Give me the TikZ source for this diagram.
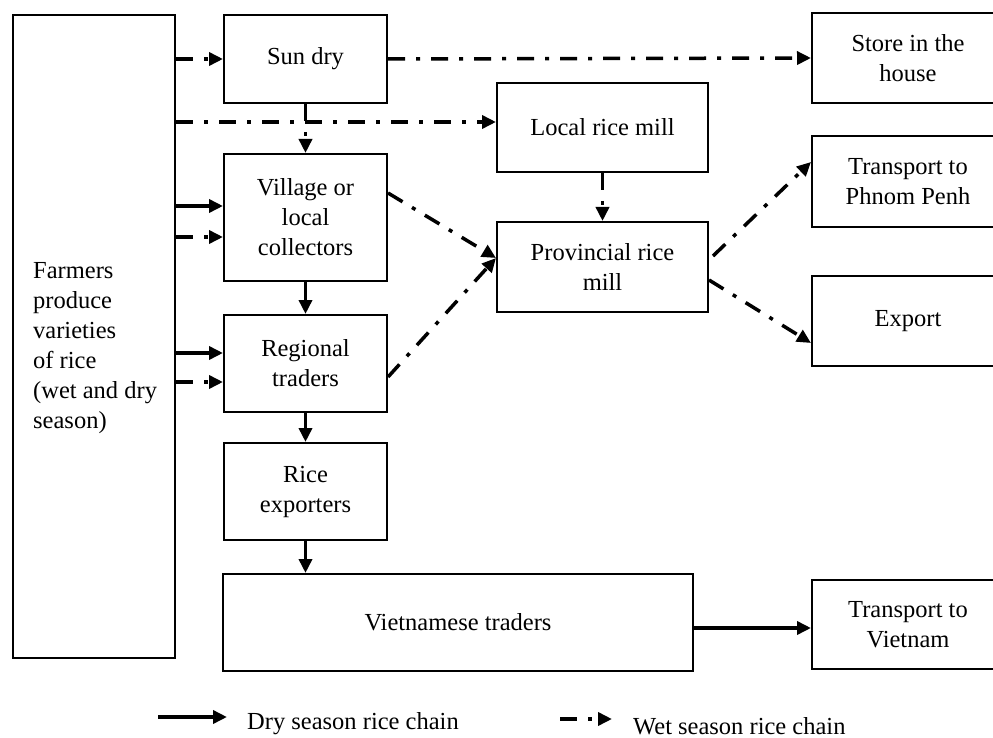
\documentclass[tikz,border=0pt]{standalone}
\usepackage{fontspec}
\setmainfont{Liberation Serif}
\usetikzlibrary{arrows.meta}
\tikzset{
  box/.style={draw,line width=2pt,align=center,inner sep=0pt,minimum width=163pt},
  dryarrow/.style={line width=3.5pt,-{Triangle[length=14pt,width=13pt]}},
  wetarrow/.style={line width=3.5pt,dash pattern=on 17pt off 11pt on 4pt off 11pt,-{Triangle[length=14pt,width=13pt]}},
}
\begin{document}
\begin{tikzpicture}[x=1pt,y=-1pt,font=\fontsize{24.5}{30}\selectfont]
\useasboundingbox (0,0) rectangle (993,738);
% farmers column
\node[box,minimum width=162pt,minimum height=643pt] (farmers) at (94,336.5) {};
\node[align=left,anchor=west,inner sep=0pt] (farmerstxt) at (33,348) {Farmers\\produce\\varieties\\of rice\\(wet and dry\\season)};
% middle chain
\node[box,minimum height=88pt] (sundry) at (305.5,59) {Sun dry};
\node[box,minimum height=127pt] (village) at (305.5,217.5) {Village or\\local\\collectors};
\node[box,minimum height=97pt] (regional) at (305.5,363.5) {Regional\\traders};
\node[box,minimum height=97pt] (exporters) at (305.5,491.5) {Rice\\exporters};
\node[box,minimum width=470pt,minimum height=97pt] (vietnamese) at (458,622.5) {Vietnamese traders};
\node[box,minimum width=211pt,minimum height=89pt] (localmill) at (602.5,127.5) {Local rice mill};
\node[box,minimum width=211pt,minimum height=90pt] (provmill) at (602.5,267) {Provincial rice\\mill};
% right column
\node[box,minimum width=192pt,minimum height=90pt] (store) at (908,58) {Store in the\\house};
\node[box,minimum width=192pt,minimum height=91pt] (phnompenh) at (908,181.5) {Transport to\\Phnom Penh};
\node[box,minimum width=192pt,minimum height=90pt] (export) at (908,321) {Export};
\node[box,minimum width=192pt,minimum height=89pt] (vietnam) at (908,624.5) {Transport to\\Vietnam};
% entry points
\coordinate (lm-in) at ([yshift=5.5pt]localmill.west);
\coordinate (v-dry) at ([yshift=11.5pt]village.west);
\coordinate (v-wet) at ([yshift=-19.5pt]village.west);
\coordinate (r-dry) at ([yshift=10.5pt]regional.west);
\coordinate (r-wet) at ([yshift=-18.5pt]regional.west);
\coordinate (pm-in) at ([yshift=9pt]provmill.west);
\coordinate (vt-out) at ([yshift=-5.5pt]vietnamese.east);
% connectors
\draw[wetarrow] (sundry.west -| farmers.east) -- (sundry.west);
\draw[wetarrow] (sundry.east) -- (store.west);
\draw[wetarrow] (lm-in -| farmers.east) -- (lm-in);
\draw[wetarrow] (sundry.south) -- (village.north);
\draw[dryarrow] (v-dry -| farmers.east) -- (v-dry);
\draw[wetarrow] (v-wet -| farmers.east) -- (v-wet);
\draw[dryarrow] (r-dry -| farmers.east) -- (r-dry);
\draw[wetarrow] (r-wet -| farmers.east) -- (r-wet);
\draw[dryarrow] (village.south) -- (regional.north);
\draw[dryarrow] (regional.south) -- (exporters.north);
\draw[dryarrow] (exporters.south) -- (exporters.south |- vietnamese.north);
\draw[wetarrow] ([yshift=24.5pt]village.east) -- (pm-in);
\draw[wetarrow] ([yshift=-13.5pt]regional.east) -- (pm-in);
\draw[wetarrow] (localmill.south) -- (provmill.north);
\draw[wetarrow] ([xshift=4pt,yshift=11pt]provmill.east) -- ([yshift=19.5pt]phnompenh.west);
\draw[wetarrow] ([yshift=-13pt]provmill.east) -- ([yshift=-22pt]export.west);
\draw[dryarrow] (vt-out) -- (vt-out -| vietnam.west);
% key
\coordinate (dry-key) at (158,717);
\node[anchor=west,inner xsep=20pt,inner ysep=0pt] (drytxt) at (227,724) {Dry season rice chain};
\draw[dryarrow] (dry-key) -- (dry-key -| drytxt.west);
\coordinate (wet-key) at (560,719);
\node[anchor=west,inner xsep=21pt,inner ysep=0pt] (wettxt) at (612,726) {Wet season rice chain};
\draw[wetarrow] (wet-key) -- (wet-key -| wettxt.west);
\end{tikzpicture}
\end{document}
